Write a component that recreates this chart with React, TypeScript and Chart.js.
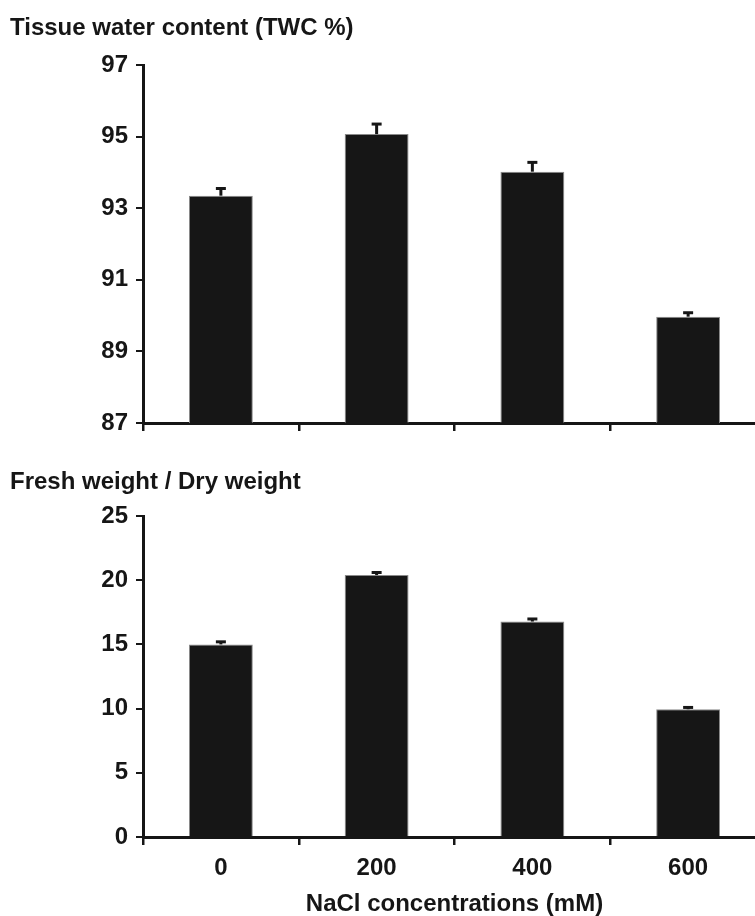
import React, { useEffect, useRef } from 'react';
import { Chart, registerables } from 'chart.js';

Chart.register(...registerables);

// ---- data ----
const categories = ['0', '200', '400', '600'];
const twcValues = [93.35, 95.07, 94.02, 89.97];
const twcErrors = [0.2, 0.28, 0.26, 0.11];
const twcTicks = [87, 89, 91, 93, 95, 97];
const fwdwValues = [15.0, 20.4, 16.78, 9.95];
const fwdwErrors = [0.2, 0.2, 0.2, 0.14];
const fwdwTicks = [0, 5, 10, 15, 20, 25];
const topTitle = 'Tissue water content (TWC %)';
const bottomTitle = 'Fresh weight / Dry weight';
const xTitle = 'NaCl concentrations (mM)';

const FONT = "'Liberation Sans', Arial, Helvetica, sans-serif";
const INK = '#161616';

const errorBarPlugin = {
  id: 'errorBars',
  afterDatasetsDraw(chart: any) {
    const ctx = chart.ctx;
    const xs = chart.scales.x;
    const ys = chart.scales.y;
    chart.data.datasets.forEach((ds: any) => {
      const errs: number[] = ds.errors || [];
      ds.data.forEach((v: number, i: number) => {
        const x = xs.getPixelForValue(i);
        const y0 = ys.getPixelForValue(v);
        const y1 = ys.getPixelForValue(v + errs[i]);
        ctx.save();
        ctx.strokeStyle = INK;
        ctx.lineWidth = 3;
        ctx.beginPath();
        ctx.moveTo(x, y0);
        ctx.lineTo(x, y1);
        ctx.stroke();
        ctx.beginPath();
        ctx.moveTo(x - 5, y1);
        ctx.lineTo(x + 5, y1);
        ctx.stroke();
        ctx.restore();
      });
    });
  },
};

type PanelProps = {
  title: string;
  values: number[];
  errors: number[];
  ticks: number[];
  top: number;
  height: number;
  titlePad: { top: number; bottom: number };
  xAxisHeight: number;
  showX: boolean;
};

function Panel(p: PanelProps) {
  const ref = useRef<HTMLCanvasElement | null>(null);
  useEffect(() => {
    if (!ref.current) return;
    const font = { family: FONT, size: 24, weight: 'bold' as const };
    const chart = new Chart(ref.current, {
      type: 'bar',
      data: {
        labels: categories,
        datasets: [
          {
            data: p.values,
            errors: p.errors,
            backgroundColor: INK,
            borderColor: '#8a8a8a',
            borderWidth: 1,
            barPercentage: 0.41,
            categoryPercentage: 1,
          } as any,
        ],
      },
      options: {
        responsive: false,
        animation: false,
        devicePixelRatio: 1,
        layout: { padding: { left: 10, right: 0, top: 0, bottom: 0 } },
        plugins: {
          legend: { display: false },
          tooltip: { enabled: false },
          title: {
            display: true,
            text: p.title,
            align: 'start',
            color: INK,
            font: font,
            padding: p.titlePad,
          },
        },
        scales: {
          x: {
            type: 'category',
            offset: true,
            grid: {
              offset: true,
              drawOnChartArea: false,
              drawTicks: true,
              tickLength: 8,
              lineWidth: 2.5,
              color: INK,
            },
            border: { display: true, width: 3, color: INK },
            ticks: { display: p.showX, color: INK, font: font, padding: 9 },
            title: {
              display: p.showX,
              text: xTitle,
              color: INK,
              font: font,
              padding: { top: 0, bottom: 11 },
            },
            afterFit: (s: any) => {
              s.height = p.xAxisHeight;
            },
          },
          y: {
            min: p.ticks[0],
            max: p.ticks[p.ticks.length - 1],
            ticks: {
              stepSize: p.ticks[1] - p.ticks[0],
              color: INK,
              font: font,
              padding: 8,
            },
            grid: {
              drawOnChartArea: false,
              drawTicks: true,
              tickLength: 7,
              lineWidth: 2,
              color: INK,
            },
            border: { display: true, width: 3, color: INK },
            afterFit: (s: any) => {
              s.width = 133;
            },
          },
        },
      },
      plugins: [errorBarPlugin],
    });
    return () => chart.destroy();
  }, []);
  return (
    <canvas
      ref={ref}
      width={766}
      height={p.height}
      style={{ position: 'absolute', left: 0, top: p.top, width: 766, height: p.height }}
    />
  );
}

export default function App() {
  return (
    <div
      style={{
        position: 'absolute',
        left: 0,
        top: 0,
        width: 755,
        height: 916,
        overflow: 'hidden',
        background: '#fff',
      }}
    >
      <Panel
        title={topTitle}
        values={twcValues}
        errors={twcErrors}
        ticks={twcTicks}
        top={0}
        height={450}
        titlePad={{ top: 13.6, bottom: 22.6 }}
        xAxisHeight={27}
        showX={false}
      />
      <Panel
        title={bottomTitle}
        values={fwdwValues}
        errors={fwdwErrors}
        ticks={fwdwTicks}
        top={450}
        height={480}
        titlePad={{ top: 17.6, bottom: 19.6 }}
        xAxisHeight={93}
        showX={true}
      />
    </div>
  );
}
